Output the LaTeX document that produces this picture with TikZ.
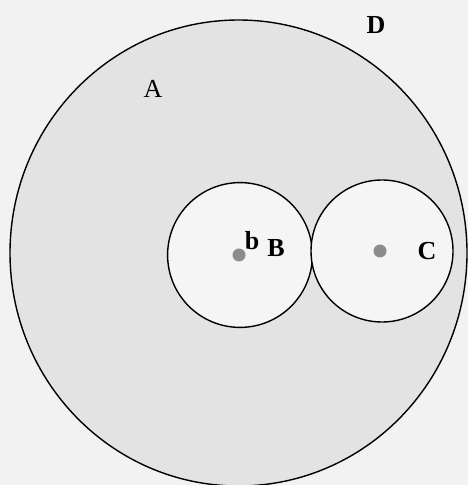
\documentclass[tikz,border=0pt]{standalone}
\usepackage{fontspec}
\setmainfont{Liberation Serif}
\begin{document}
\begin{tikzpicture}[x=0.5pt,y=-0.5pt,font=\fontsize{13}{15}\selectfont\bfseries,
    ring/.style={draw=black,line width=0.7pt},
    spot/.style={circle,fill=black!45,inner sep=0pt,minimum size=6.5pt}]
    \useasboundingbox (0,0) rectangle (468,485);
    \clip (0,0) rectangle (468,485);
    \fill[black!5] (0,0) rectangle (468,485);

    % outer region A
    \filldraw[ring,fill=black!11] (238.5,253) ellipse [x radius=114.25pt,y radius=116.5pt];

    % the two tangent circles
    \filldraw[ring,fill=black!4] (240,255) circle [radius=36.2pt];
    \filldraw[ring,fill=black!4] (382,251) circle [radius=35.5pt];

    \node[spot] (b0) at (239,255) {};
    \node[spot] (c0) at (380,251) {};

    \node (labA) at (153,89) {\mdseries A};
    \node (labD) at (376,25) {D};
    \node (labb) at (252,241) {b};
    \node (labB) at (276,248) {B};
    \node (labC) at (427,251) {C};
\end{tikzpicture}
\end{document}
